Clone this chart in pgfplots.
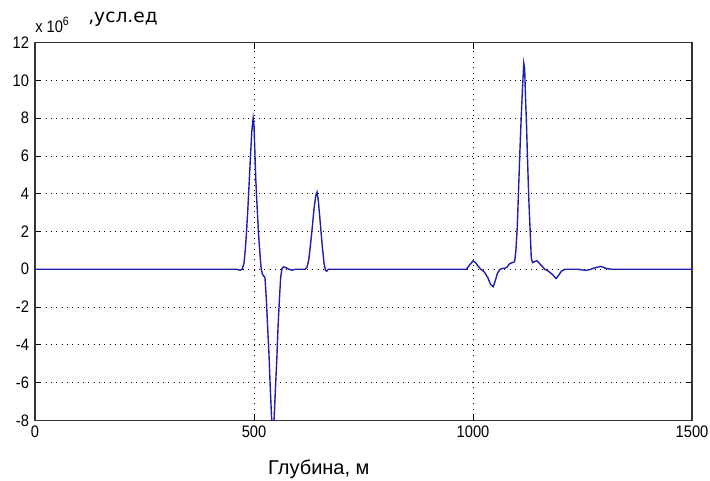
\documentclass[border=0pt]{standalone}
\usepackage{fontspec}
\setmainfont{Liberation Sans}
\newfontfamily\tickfont[FakeStretch=0.88]{Liberation Sans}
\newfontfamily\labfont{DejaVu Sans}
\usepackage{pgfplots}
\pgfplotsset{compat=1.18}
\definecolor{linecol}{RGB}{30,30,175}
\begin{document}
\begin{tikzpicture}
\useasboundingbox (-26.25pt,-44.8pt) rectangle (506.25pt,315.2pt);
\begin{axis}[
  scale only axis,
  width=492.75pt, height=283.2pt,
  xmin=0, xmax=1500, ymin=-8, ymax=12,
  xtick={0,500,1000,1500},
  ytick={-8,-6,...,12},
  grid=major,
  grid style={black, line width=0.6pt, dash pattern=on 0.7pt off 3.3pt},
  tick align=inside,
  major tick length=4.5pt,
  tick style={black, line width=0.6pt},
  axis line style={black!80, line width=0.8pt},
  /pgf/number format/assume math mode=true,
  /pgf/number format/1000 sep={},
  ticklabel style={font=\tickfont\fontsize{12.5}{14}\selectfont},
  yticklabel style={xshift=-1pt},
  xticklabel style={yshift=-1pt},
  scaled y ticks=false,
  xlabel={Глубина, м},
  xlabel style={font=\fontsize{15}{17}\selectfont, at={(axis description cs:0.432,0)}, anchor=base, yshift=-41pt},
  clip=true,
]
\addplot[color=linecol, line width=1.05pt] coordinates {
(0,0) (460,0) (468,-0.05) (473,0) (477,0.3) (480,1.0) (483,2.0) (486,3.2) (489,4.6) (492,6.0) (495,7.3) (498,8.0) (500,7.6) (502,6.2) (504,4.8) (506,3.8) (508,2.9) (510,2.0) (513,1.0) (516,0.1) (519,-0.25) (522,-0.35) (525,-0.45) (528,-1.5) (531,-3.0) (534,-4.4) (537,-6.2) (540,-7.8) (543,-8.6) (546,-7.9) (549,-6.3) (552,-4.8) (555,-3.0) (558,-1.6) (561,-0.4) (564,0.05) (568,0.12) (573,0.08) (578,0.02) (586,-0.05) (595,0)
(617,0) (621,0.1) (625,0.5) (629,1.3) (633,2.2) (637,3.2) (641,3.9) (644,4.08) (647,3.6) (650,2.8) (653,2.0) (656,1.2) (660,0.3) (663,-0.05) (666,-0.1) (670,0)
(985,0) (993,0.25) (1000,0.44) (1006,0.35) (1012,0.15) (1018,0) (1026,-0.15) (1034,-0.45) (1040,-0.8) (1046,-0.93) (1051,-0.6) (1056,-0.2) (1061,-0.03) (1066,0.04) (1072,0.05) (1078,0.12) (1084,0.3) (1090,0.35) (1095,0.4) (1098,1.0) (1101,2.2) (1104,4.2) (1107,6.2) (1110,8.0) (1113,9.6) (1116,10.9) (1118,10.6) (1120,9.0) (1122,7.8) (1124,6.2) (1127,4.0) (1129,2.8) (1131,1.8) (1133,0.6) (1136,0.35) (1140,0.4) (1146,0.45) (1152,0.3) (1158,0.15) (1164,0) (1172,-0.1) (1180,-0.25) (1186,-0.4) (1190,-0.49) (1196,-0.3) (1202,-0.1) (1210,0)
(1240,0) (1250,-0.04) (1258,-0.06) (1266,-0.02) (1275,0.05) (1283,0.1) (1291,0.15) (1298,0.1) (1306,0.03) (1316,0) (1500,0)
};
\end{axis}
\node[anchor=base west, inner sep=0pt, font=\tickfont\fontsize{12.5}{14}\selectfont] at ([yshift=7.3pt]current axis.north west) {x 10\raisebox{5.5pt}{\fontsize{9}{10}\selectfont 6}};
\node[anchor=base west, inner sep=0pt, font=\labfont\fontsize{14}{16}\selectfont] at ([xshift=39.75pt,yshift=14.8pt]current axis.north west) {,усл.ед};
\end{tikzpicture}
\end{document}
